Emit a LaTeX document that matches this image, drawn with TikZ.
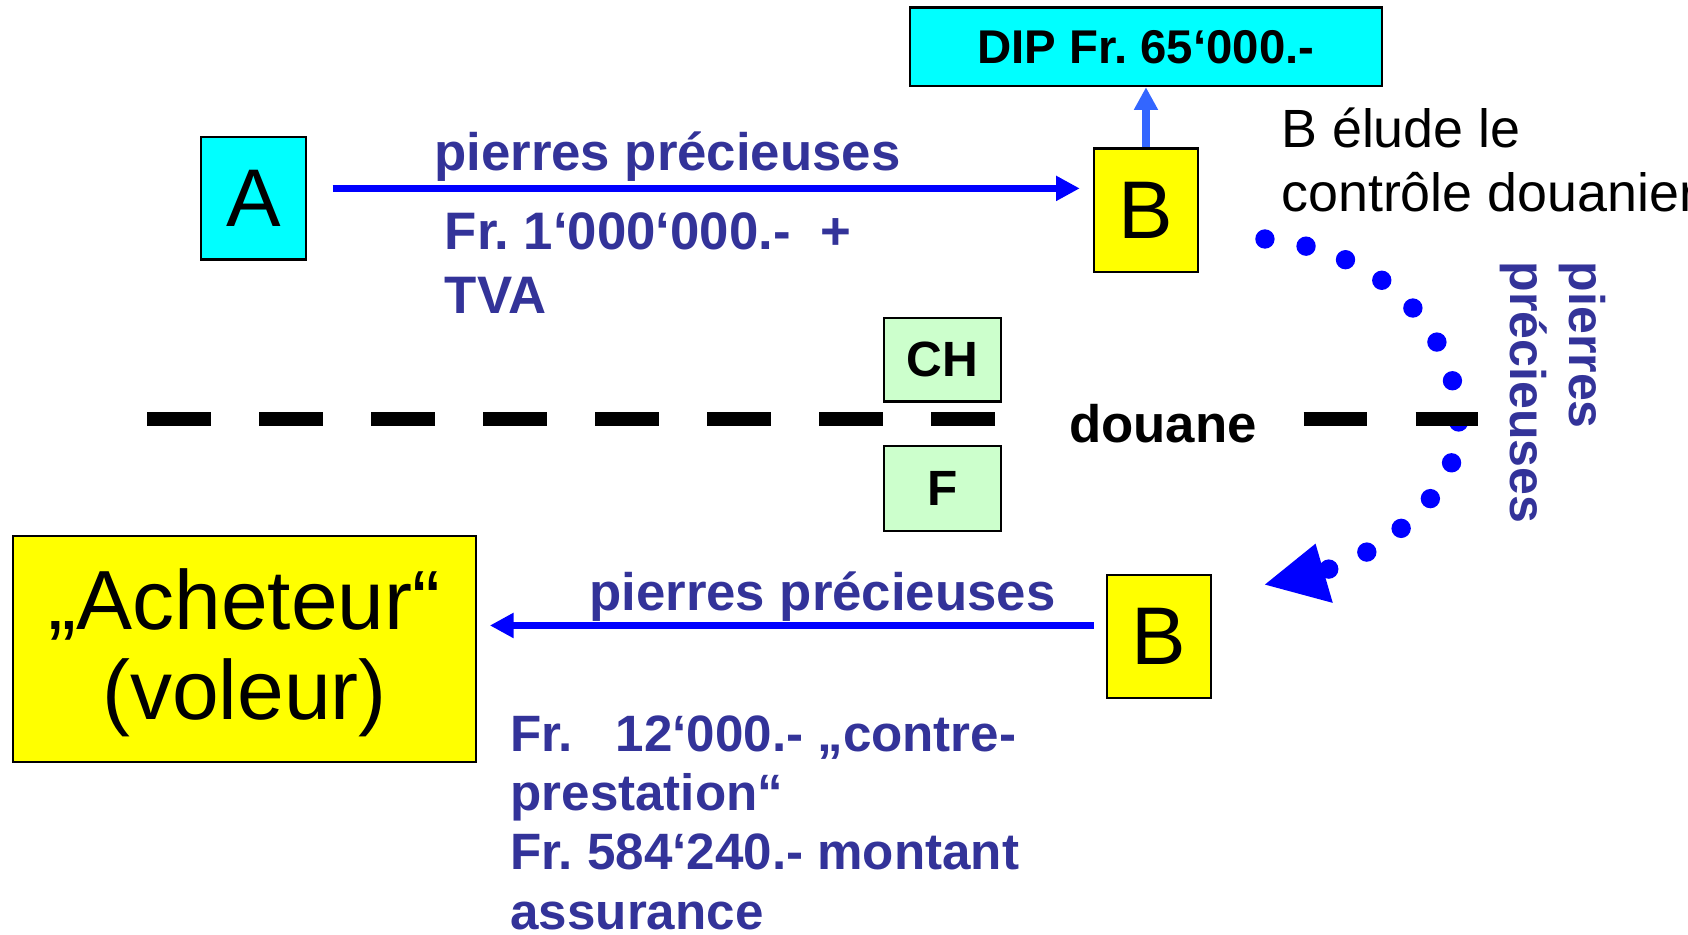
\documentclass[tikz,border=0pt]{standalone}
\usepackage{fontspec}
\setmainfont{Liberation Sans}
\usetikzlibrary{arrows.meta}
\definecolor{cyanbox}{RGB}{0,255,255}
\definecolor{yelbox}{RGB}{255,255,0}
\definecolor{grnbox}{RGB}{204,255,204}
\definecolor{txtblue}{RGB}{51,51,153}
\definecolor{arrblue}{RGB}{0,0,255}
\definecolor{lightarr}{RGB}{51,102,255}
\frenchspacing
\begin{document}
\begin{tikzpicture}[x=1pt,y=-1pt,
  box/.style={draw=black, line width=2pt, inner sep=0pt, anchor=center},
  bigtxt/.style={font=\fontsize{76}{84}\selectfont},
  bluetxt/.style={text=txtblue, inner sep=0pt, font=\fontsize{49}{55}\selectfont\bfseries},
  blocktxt/.style={text=txtblue, inner sep=0pt, anchor=base west, font=\fontsize{47.5}{55}\selectfont\bfseries},
  vertxt/.style={text=txtblue, inner sep=0pt, anchor=base west, rotate=-90, font=\fontsize{46.5}{52}\selectfont\bfseries},
  blktxt/.style={text=black, inner sep=0pt, font=\fontsize{50}{58}\selectfont},
  mainarrow/.style={draw=arrblue, line width=7pt, -{Triangle[length=22pt,width=22pt]}},
  uparrow/.style={draw=lightarr, line width=7pt, -{Triangle[length=21pt,width=21pt]}},
  dotline/.style={draw=arrblue, line width=18pt, line cap=round, dash pattern=on 0pt off 38.8pt},
  douanedash/.style={draw=black, line width=13pt, dash pattern=on 59pt off 45pt}
]
\useasboundingbox (0,0) rectangle (1568,868);
\fill[white] (0,0) rectangle (1568,868);
\clip (0,0) rectangle (1568,868);

% boxes
\node[box, fill=cyanbox, minimum width=97pt, minimum height=114pt, bigtxt] (A) at (235.5,184) {A};
\node[box, fill=yelbox, minimum width=97pt, minimum height=115pt, bigtxt] (Btop) at (1064.5,195.5) {B};
\node[box, fill=cyanbox, minimum width=439pt, minimum height=73pt, font=\fontsize{44}{50}\selectfont\bfseries] (DIP) at (1064.5,43.5) {DIP Fr. 65‘000.-};
\node[box, fill=grnbox, minimum width=109pt, minimum height=78pt, font=\fontsize{46}{52}\selectfont\bfseries] (CH) at (875.5,334) {CH};
\node[box, fill=grnbox, minimum width=109pt, minimum height=79pt, font=\fontsize{46}{52}\selectfont\bfseries] (F) at (875.5,453.5) {F};
\node[box, fill=yelbox, minimum width=97pt, minimum height=114pt, bigtxt] (Bbot) at (1076.5,591) {B};
\node[box, fill=yelbox, minimum width=430pt, minimum height=210pt] (Ach) at (227,603) {};
\node[inner sep=0pt, anchor=base, font=\fontsize{78}{86}\selectfont] (Ach1) at (227,585) {„Acheteur“};
\node[inner sep=0pt, anchor=base, font=\fontsize{78}{86}\selectfont] (Ach2) at (227,668) {(voleur)};

% dotted curve (B evades customs)
\coordinate (d0) at (1175,222);
\coordinate (d1) at (1355,397);
\coordinate (d2) at (1230,530);
\draw[dotline] (d0) .. controls (1300,235) and (1355,320) .. (d1) .. controls (1355,455) and (1290,512) .. (d2);
\coordinate (h1) at (1175,543);
\coordinate (h2) at (1222,505);
\coordinate (h3) at (1238,560);
\fill[arrblue] (h1) -- (h2) -- (h3) -- cycle;

% customs line
\coordinate (dl1) at (137,389);
\coordinate (dl2) at (925,389);
\coordinate (dr1) at (1211,389);
\coordinate (dr2) at (1373,389);
\draw[douanedash] (dl1) -- (dl2);
\draw[douanedash] (dr1) -- (dr2);
\node[inner sep=0pt, anchor=base west, font=\fontsize{49}{55}\selectfont\bfseries] (douane) at (993,411) {douane};

% arrows
\coordinate (a1) at (309,175);
\coordinate (a2) at (1003,175);
\draw[mainarrow] (a1) -- (a2);
\draw[uparrow] (Btop.north) -- (DIP.south);
\coordinate (l1) at (1016,581);
\coordinate (l2) at (455,581);
\draw[mainarrow] (l1) -- (l2);

% blue labels
\node[bluetxt, anchor=base] (pp1) at (620,158) {pierres précieuses};
\node[bluetxt, anchor=base west] (fr1) at (413,232) {Fr. 1‘000‘000.-\ \ +};
\node[bluetxt, anchor=base west] (tva) at (413,291) {TVA};
\node[bluetxt, anchor=base] (pp2) at (764,567) {pierres précieuses};
\node[blocktxt] (m1) at (474,698) {Fr.\ \ \ 12‘000.- „contre-};
\node[blocktxt] (m2) at (474,753) {prestation“};
\node[blocktxt] (m3) at (474,808) {Fr. 584‘240.- montant};
\node[blocktxt] (m4) at (474,863) {assurance};
\node[vertxt] (rp1) at (1458,243) {pierres};
\node[vertxt] (rp2) at (1403,243) {précieuses};

% black text
\node[blktxt, anchor=base west] (el1) at (1190,137) {B élude le};
\node[blktxt, anchor=base west] (el2) at (1190,196) {contrôle douanier};
\end{tikzpicture}
\end{document}
